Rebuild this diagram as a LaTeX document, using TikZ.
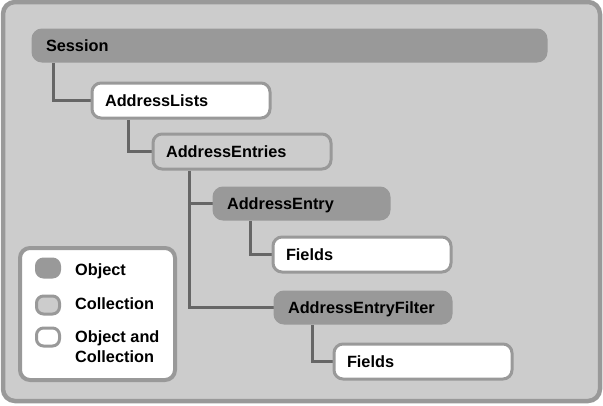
\documentclass[tikz,border=0pt]{standalone}
\usepackage{fontspec}
\setmainfont{Liberation Sans}
\usepackage{tikz}
\usetikzlibrary{positioning,backgrounds}

\definecolor{boxgray}{HTML}{999999}
\definecolor{panelgray}{HTML}{CCCCCC}
\definecolor{linegray}{HTML}{666666}

\begin{document}
\begin{tikzpicture}[
  x=1pt, y=-1pt,
  item/.style={draw=boxgray, line width=3pt, rounded corners=9pt, anchor=north west,
    inner xsep=13pt, inner ysep=0pt, align=left, text height=12pt, text depth=0pt,
    font=\fontsize{16.3}{20}\selectfont\bfseries},
  obj/.style={item, fill=boxgray, minimum height=31pt},
  coll/.style={item, fill=panelgray, minimum height=35pt},
  objcoll/.style={item, fill=white, minimum height=35pt},
  link/.style={draw=linegray, line width=3pt},
  swatch/.style={draw=boxgray, line width=3pt, rounded corners=7pt,
    minimum width=23pt, minimum height=18pt, inner sep=0pt},
  keytext/.style={font=\fontsize{16.3}{20}\selectfont\bfseries, inner sep=0pt, align=left}
]
  \useasboundingbox (0,0) rectangle (603,405);

  % Nodes
  \node[obj, text width=487pt] (session) at (31.5,28.5) {Session};
  \node[objcoll, text width=152pt] (lists) at (90.5,81.5) {AddressLists};
  \node[coll, text width=152pt] (entries) at (151.5,132.5) {AddressEntries};
  \node[obj, text width=149pt] (entry) at (212.5,186.5) {AddressEntry};
  \node[objcoll, text width=152pt] (fieldsA) at (271.5,235.5) {Fields};
  \node[obj, text width=150pt] (filter) at (273.5,290.5) {AddressEntryFilter};
  \node[objcoll, text width=152pt] (fieldsB) at (332.5,342.5) {Fields};

  % Legend
  \node[draw=boxgray, fill=white, line width=4pt, rounded corners=10pt, anchor=north west,
    minimum width=155pt, minimum height=132pt] (legend) at (18,246) {};
  \node[swatch, fill=boxgray] (keyobj) at (48,268) {};
  \node[swatch, fill=panelgray] (keycoll) at (48,305) {};
  \node[swatch, fill=white] (keyboth) at (48,337) {};
  \node[keytext, anchor=base west] (objtext) at (75,275) {Object};
  \node[keytext, anchor=base west] (colltext) at (75,309) {Collection};
  \node[keytext, anchor=north west] (bothtext) at (75,330) {Object and\\Collection};

  % Links
  \begin{scope}[on background layer]
    \draw[draw=boxgray, fill=panelgray, line width=4.5pt, rounded corners=12pt] (3,2) rectangle (600,401);
    \draw[link] ([xshift=21.5pt]session.south west) |- (lists.west);
    \draw[link] ([xshift=37.5pt]lists.south west) |- (entries.west);
    \draw[link] ([xshift=37.5pt]entries.south west) |- (entry.west);
    \draw[link] ([xshift=37.5pt]entries.south west) |- (filter.west);
    \draw[link] ([xshift=37.5pt]entry.south west) |- (fieldsA.west);
    \draw[link] ([xshift=38.5pt]filter.south west) |- (fieldsB.west);
  \end{scope}
\end{tikzpicture}
\end{document}
